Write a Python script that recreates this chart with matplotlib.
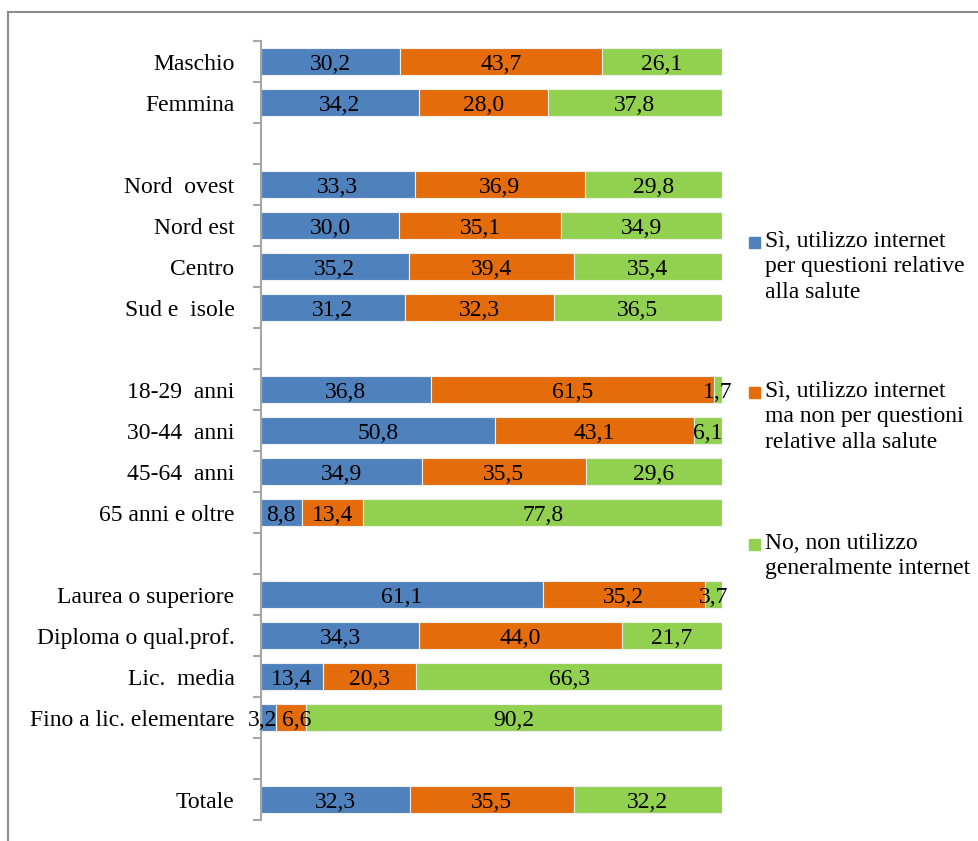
import numpy as np
import matplotlib
matplotlib.use("Agg")
import matplotlib.pyplot as plt
from matplotlib.patches import Rectangle
from matplotlib.lines import Line2D

plt.rcParams['font.family'] = ['Liberation Serif', 'DejaVu Serif']

# categories, in blocks separated by an empty row
categories = ["Maschio", "Femmina",
              "Nord  ovest", "Nord est", "Centro", "Sud e  isole",
              "18-29  anni", "30-44  anni", "45-64  anni", "65 anni e oltre",
              "Laurea o superiore", "Diploma o qual.prof.", "Lic.  media",
              "Fino a lic. elementare",
              "Totale"]
block_sizes = [2, 4, 4, 4, 1]

si_salute = [30.2, 34.2, 33.3, 30.0, 35.2, 31.2, 36.8, 50.8, 34.9, 8.8,
             61.1, 34.3, 13.4, 3.2, 32.3]
si_non_salute = [43.7, 28.0, 36.9, 35.1, 39.4, 32.3, 61.5, 43.1, 35.5, 13.4,
                 35.2, 44.0, 20.3, 6.6, 35.5]
no_internet = [26.1, 37.8, 29.8, 34.9, 35.4, 36.5, 1.7, 6.1, 29.6, 77.8,
               3.7, 21.7, 66.3, 90.2, 32.2]

series_labels = ["Sì, utilizzo internet\nper questioni relative\nalla salute",
                 "Sì, utilizzo internet\nma non per questioni\nrelative alla salute",
                 "No, non utilizzo\ngeneralmente internet"]
colors = ["#4F81BD", "#E46C0A", "#92D050"]

# row positions with one empty slot between blocks
pos = []
slot = 0
for size in block_sizes:
    pos.extend(range(slot, slot + size))
    slot += size + 1
pos = np.array(pos)
n_slots = slot - 1

values = np.array([si_salute, si_non_salute, no_internet])
shares = values / values.sum(axis=0) * 100  # 100% stacked
lefts = np.vstack([np.zeros(len(pos)), np.cumsum(shares, axis=0)[:-1]])
centers = lefts + shares / 2

# spread apart labels of two narrow neighbouring segments
for i in range(len(pos)):
    for k in range(len(colors) - 1):
        if shares[k, i] < 8 and shares[k + 1, i] < 8:
            centers[k, i] -= 1.3
            centers[k + 1, i] += 1.3

fig = plt.figure(figsize=(9.79, 8.41), dpi=100)
ax = fig.add_axes([261 / 979, 1 - 820 / 841, 461 / 979, 779 / 841])

for k, col in enumerate(colors):
    ax.barh(pos, shares[k], left=lefts[k], height=0.68, color=col,
            edgecolor="#f0f0f0", linewidth=0.8)
    for y, c, v in zip(pos, centers[k], values[k]):
        ax.text(c, y, f"{v:.1f}".replace(".", ","),
                ha="center", va="center_baseline", fontsize=17,
                color="black")

ax.set_xlim(0, 100)
ax.set_ylim(n_slots - 0.5, -0.5)
ax.set_yticks(pos)
ax.set_yticklabels(categories, fontsize=17)
ax.tick_params(axis="y", which="major", length=0, pad=19)
ax.set_yticks(np.arange(-0.5, n_slots + 0.5, 1), minor=True)
ax.tick_params(axis="y", which="minor", length=6, width=1.5,
               color="#a6a6a6", direction="out")
ax.xaxis.set_visible(False)
for s in ["top", "right", "bottom"]:
    ax.spines[s].set_visible(False)
ax.spines["left"].set_color("#a6a6a6")
ax.spines["left"].set_linewidth(1.5)

# legend on the right, square aligned with the first text line
leg_tops = [231, 381, 533]
for lab, col, top in zip(series_labels, colors, leg_tops):
    fig.patches.append(Rectangle((749 / 979, 1 - (top + 17) / 841),
                                 11 / 979, 11 / 841, color=col,
                                 transform=fig.transFigure))
    fig.text(765 / 979, 1 - top / 841, lab, fontsize=17, va="top",
             ha="left", linespacing=1.28)

# outer frame (top and left edges)
fig.lines.append(Line2D([8 / 979, 1], [1 - 12 / 841, 1 - 12 / 841],
                        color="#8c8c8c", lw=1.5, transform=fig.transFigure))
fig.lines.append(Line2D([8 / 979, 8 / 979], [0, 1 - 12 / 841],
                        color="#8c8c8c", lw=1.5, transform=fig.transFigure))

fig.savefig("out.png", dpi=100, facecolor="white")
